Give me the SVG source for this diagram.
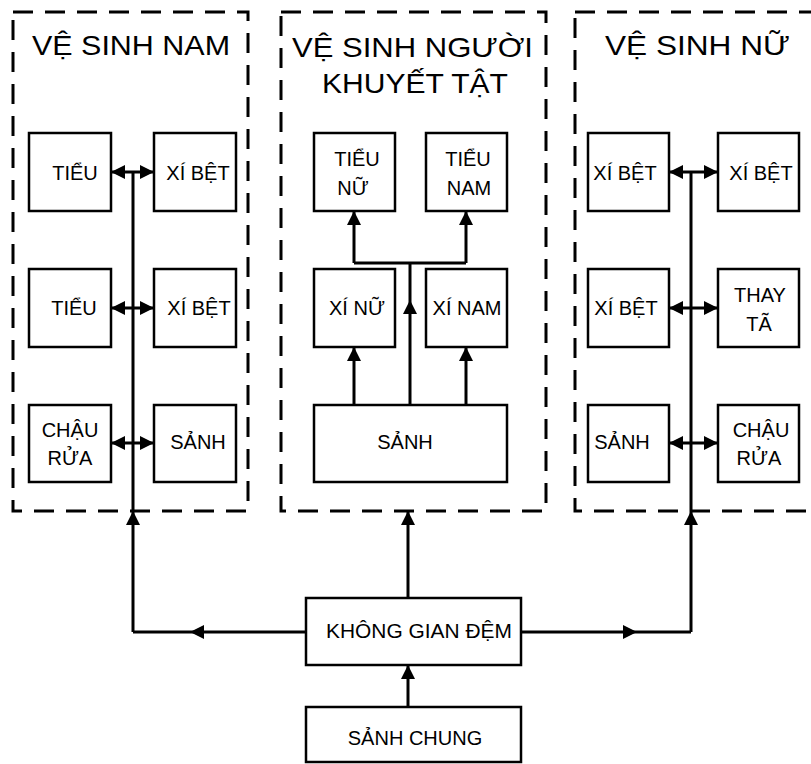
<svg xmlns="http://www.w3.org/2000/svg" width="811" height="764" viewBox="0 0 811 764">
<style>
.panel{fill:none;stroke:#000;stroke-width:3;stroke-dasharray:20 12}
.box{fill:#fff;stroke:#000;stroke-width:2.5}
.t{font-family:"Liberation Sans",Arial,sans-serif;font-size:20px;fill:#000;text-anchor:middle}
.title{font-family:"Liberation Sans",Arial,sans-serif;font-size:28px;fill:#000}
.c{fill:none;stroke:#000;stroke-width:3}
.a{marker-end:url(#ah)}
.d{marker-start:url(#ah);marker-end:url(#ah)}
</style>
<defs>
<marker id="ah" viewBox="0 0 14 14" refX="14" refY="7" markerWidth="14" markerHeight="14" markerUnits="userSpaceOnUse" orient="auto-start-reverse">
<path d="M0,0 L14,7 L0,14 Z" fill="#000"/>
</marker>
</defs>
<rect width="811" height="764" fill="#fff"/>

<g id="panel-nam">
<rect class="panel" x="13" y="12" width="235" height="499"/>
<text class="title" x="32" y="55" textLength="198" lengthAdjust="spacingAndGlyphs">VỆ SINH NAM</text>
</g>
<g id="panel-kt">
<rect class="panel" x="281" y="12" width="265" height="499"/>
<text class="title" x="292" y="57" textLength="241" lengthAdjust="spacingAndGlyphs">VỆ SINH NGƯỜI</text>
<text class="title" x="322" y="93" textLength="186" lengthAdjust="spacingAndGlyphs">KHUYẾT TẬT</text>
</g>
<g id="panel-nu">
<rect class="panel" x="575" y="12" width="250" height="499"/>
<text class="title" x="605" y="55" textLength="185" lengthAdjust="spacingAndGlyphs">VỆ SINH NỮ</text>
</g>

<g id="connectors">
<path class="c d" d="M111,172 H154"/>
<path class="c d" d="M111,308 H154"/>
<path class="c d" d="M111,443 H154"/>
<path class="c" d="M133,511 V172"/>
<path class="c a" d="M133,632 V511"/>
<path class="c a" d="M306,632 H190"/>
<path class="c" d="M190,632 H133"/>

<path class="c a" d="M408,598 V511"/>
<path class="c a" d="M354,405 V347"/>
<path class="c a" d="M466,405 V347"/>
<path class="c a" d="M410,405 V300"/>
<path class="c" d="M410,300 V263"/>
<path class="c" d="M354,263 H466"/>
<path class="c a" d="M354,263 V211"/>
<path class="c a" d="M466,263 V211"/>

<path class="c d" d="M669,172 H718"/>
<path class="c d" d="M669,308 H718"/>
<path class="c d" d="M669,443 H718"/>
<path class="c" d="M691,511 V172"/>
<path class="c a" d="M691,632 V511"/>
<path class="c a" d="M521,632 H637"/>
<path class="c" d="M637,632 H691"/>

<path class="c a" d="M408,707 V665"/>
</g>

<g id="nam-tieu1"><rect class="box" x="29" y="133" width="82" height="78"/><text class="t" x="75" y="180">TIỂU</text></g>
<g id="nam-xibet1"><rect class="box" x="154" y="133" width="82" height="78"/><text class="t" x="198" y="180">XÍ BỆT</text></g>
<g id="nam-tieu2"><rect class="box" x="29" y="269" width="82" height="78"/><text class="t" x="74" y="315">TIỂU</text></g>
<g id="nam-xibet2"><rect class="box" x="154" y="269" width="82" height="78"/><text class="t" x="199" y="315">XÍ BỆT</text></g>
<g id="nam-chaurua"><rect class="box" x="29" y="405" width="82" height="77"/><text class="t" x="70" y="437">CHẬU</text><text class="t" x="70" y="465">RỬA</text></g>
<g id="nam-sanh"><rect class="box" x="154" y="405" width="82" height="77"/><text class="t" x="198" y="449">SẢNH</text></g>

<g id="kt-tieunu"><rect class="box" x="314" y="133" width="81" height="78"/><text class="t" x="357" y="166">TIỂU</text><text class="t" x="353" y="195">NỮ</text></g>
<g id="kt-tieunam"><rect class="box" x="426" y="133" width="81" height="78"/><text class="t" x="468" y="166">TIỂU</text><text class="t" x="469" y="195">NAM</text></g>
<g id="kt-xinu"><rect class="box" x="314" y="269" width="81" height="78"/><text class="t" x="357" y="315">XÍ NỮ</text></g>
<g id="kt-xinam"><rect class="box" x="426" y="269" width="81" height="78"/><text class="t" x="467" y="315">XÍ NAM</text></g>
<g id="kt-sanh"><rect class="box" x="314" y="405" width="193" height="77"/><text class="t" x="405" y="449">SẢNH</text></g>

<g id="nu-xibet1"><rect class="box" x="588" y="133" width="81" height="78"/><text class="t" x="625" y="180">XÍ BỆT</text></g>
<g id="nu-xibet2"><rect class="box" x="718" y="133" width="81" height="78"/><text class="t" x="761" y="180">XÍ BỆT</text></g>
<g id="nu-xibet3"><rect class="box" x="588" y="269" width="81" height="78"/><text class="t" x="626" y="315">XÍ BỆT</text></g>
<g id="nu-thayta"><rect class="box" x="718" y="269" width="81" height="78"/><text class="t" x="760" y="302">THAY</text><text class="t" x="759" y="331">TÃ</text></g>
<g id="nu-sanh"><rect class="box" x="588" y="405" width="81" height="77"/><text class="t" x="622" y="449">SẢNH</text></g>
<g id="nu-chaurua"><rect class="box" x="718" y="405" width="81" height="77"/><text class="t" x="761" y="437">CHẬU</text><text class="t" x="759" y="465">RỬA</text></g>

<g id="khong-gian-dem"><rect class="box" x="306" y="598" width="215" height="67"/><text class="t" x="419" y="638" textLength="186" lengthAdjust="spacingAndGlyphs">KHÔNG GIAN ĐỆM</text></g>
<g id="sanh-chung"><rect class="box" x="306" y="707" width="215" height="55"/><text class="t" x="415" y="745">SẢNH CHUNG</text></g>
</svg>
